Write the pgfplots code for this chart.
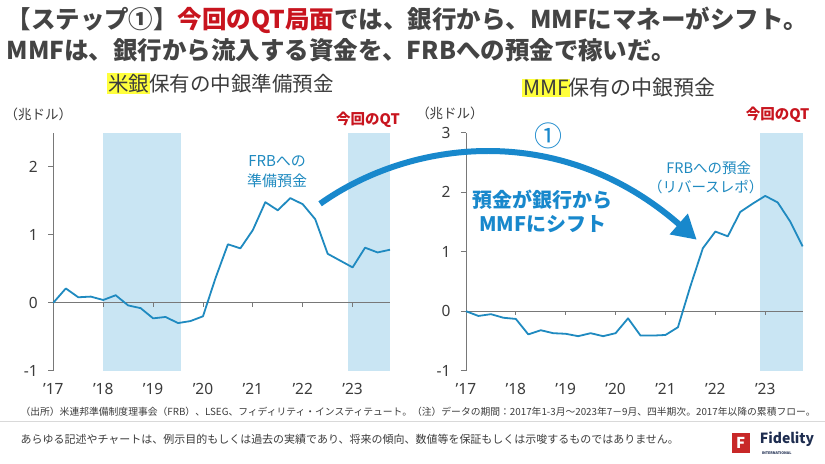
\documentclass[border=0pt]{standalone}
\usepackage{fontspec}
\usepackage{pgfplots}
\pgfplotsset{compat=1.18}
\usetikzlibrary{arrows.meta}
\setmainfont{Noto Sans CJK JP}
\newfontfamily\latinfont{Noto Sans}
\newcommand\fs[1]{\fontsize{#1}{#1}\selectfont}
\definecolor{linecol}{RGB}{31,138,192}
\definecolor{arrowcol}{RGB}{24,136,204}
\definecolor{qtband}{RGB}{201,229,243}
\definecolor{qtred}{RGB}{200,20,30}
\definecolor{titlegray}{RGB}{68,68,68}
\definecolor{txtgray}{RGB}{60,60,60}
\definecolor{axgray}{RGB}{120,120,120}
\definecolor{yel}{RGB}{255,255,60}
\definecolor{fidred}{RGB}{200,40,40}
\definecolor{fidnavy}{RGB}{30,45,80}
% x = years since start of 2017 (quarterly, cumulative flow)
\pgfplotstableread{
x y
0.00 0
0.25 0.21
0.50 0.08
0.75 0.09
1.00 0.04
1.25 0.11
1.50 -0.04
1.75 -0.08
2.00 -0.23
2.25 -0.21
2.50 -0.30
2.75 -0.27
3.00 -0.20
3.25 0.36
3.50 0.86
3.75 0.80
4.00 1.07
4.25 1.48
4.50 1.36
4.75 1.54
5.00 1.45
5.25 1.23
5.50 0.72
5.75 0.62
6.00 0.52
6.25 0.81
6.50 0.74
6.75 0.78
}\banks
\pgfplotstableread{
x y
0.00 0
0.25 -0.08
0.50 -0.05
0.75 -0.11
1.00 -0.13
1.25 -0.39
1.50 -0.32
1.75 -0.37
2.00 -0.38
2.25 -0.42
2.50 -0.37
2.75 -0.42
3.00 -0.37
3.25 -0.12
3.50 -0.41
3.75 -0.41
4.00 -0.40
4.25 -0.27
4.50 0.42
4.75 1.06
5.00 1.34
5.25 1.26
5.50 1.67
5.75 1.81
6.00 1.94
6.25 1.83
6.50 1.51
6.75 1.09
}\mmf
\pgfplotsset{
  mystyle/.style={
    scale only axis, anchor=south west,
    width=337pt, height=238pt,
    xmin=0, xmax=6.75,
    axis lines=left, axis line style={-, draw=axgray, line width=0.8pt},
    x axis line style={draw=none},
    xtick={0,1,2,3,4,5,6},
    xticklabels={’17,’18,’19,’20,’21,’22,’23},
    xtick style={draw=none},
    ytick style={draw=axgray, line width=0.8pt},
    tick align=outside, major tick length=5pt,
    ticklabel style={font=\latinfont\fs{15.5}, text=txtgray},
    xticklabel style={yshift=-4pt},
    yticklabel style={xshift=-7pt},
    clip=false,
  }
}
\begin{document}
\begin{tikzpicture}
\begin{scope}[x=1pt,y=1pt]
\path[use as bounding box, fill=white] (0,0) rectangle (825,464);
\end{scope}
% left axis
\begin{axis}[mystyle, at={(53pt,93pt)}, ymin=-1, ymax=2.5,
  ytick={-1,0,1,2}, yticklabels={-1,0,1,2}]
\fill[qtband] (axis cs:1,-1) rectangle (axis cs:2.55,2.5);
\fill[qtband] (axis cs:5.9,-1) rectangle (axis cs:6.75,2.5);
\draw[axgray, line width=0.8pt] (axis cs:0,0) -- (axis cs:6.75,0);
\draw[axgray, line width=0.8pt] (axis cs:1,0) -- (axis cs:1,-0.06) (axis cs:2,0) -- (axis cs:2,-0.06) (axis cs:3,0) -- (axis cs:3,-0.06) (axis cs:4,0) -- (axis cs:4,-0.06) (axis cs:5,0) -- (axis cs:5,-0.06) (axis cs:6,0) -- (axis cs:6,-0.06);
\addplot[linecol, line width=1.8pt, line join=round] table[x=x,y=y] {\banks};
\end{axis}
% right axis
\begin{axis}[mystyle, at={(466pt,93pt)}, ymin=-1, ymax=3,
  ytick={-1,0,1,2,3}, yticklabels={-1,0,1,2,3}]
\fill[qtband] (axis cs:5.9,-1) rectangle (axis cs:6.75,3);
\draw[axgray, line width=0.8pt] (axis cs:0,0) -- (axis cs:6.75,0);
\draw[axgray, line width=0.8pt] (axis cs:1,0) -- (axis cs:1,-0.07) (axis cs:2,0) -- (axis cs:2,-0.07) (axis cs:3,0) -- (axis cs:3,-0.07) (axis cs:4,0) -- (axis cs:4,-0.07) (axis cs:5,0) -- (axis cs:5,-0.07) (axis cs:6,0) -- (axis cs:6,-0.07);
\addplot[linecol, line width=1.8pt, line join=round] table[x=x,y=y] {\mmf};
\end{axis}
\begin{scope}[x=1pt,y=1pt]
% titles
\node[anchor=west, inner sep=0pt, text=titlegray, font=\bfseries\fs{24.5}] at (6,444) {【ステップ①】\textcolor{qtred}{今回のQT局面}では、銀行から、MMFにマネーがシフト。};
\node[anchor=west, inner sep=0pt, text=titlegray, font=\bfseries\fs{24.5}] at (6,414) {MMFは、銀行から流入する資金を、FRBへの預金で稼いだ。};
\setlength\fboxsep{1pt}
\node[anchor=west, inner sep=0pt, text=txtgray, font=\fs{20.5}] at (107,380) {\colorbox{yel}{米銀}\hspace{-1pt}保有の中銀準備預金};
\node[anchor=west, inner sep=0pt, text=txtgray, font=\fs{21}] at (522,376) {\colorbox{yel}{MMF}\hspace{-1pt}保有の中銀預金};
% unit labels
\node[text=txtgray, font=\fs{13.5}, inner sep=0pt] at (38,350) {（兆ドル）};
\node[text=txtgray, font=\fs{13.5}, inner sep=0pt] at (450,351) {（兆ドル）};
\node[text=qtred, font=\bfseries\fs{14.5}, inner sep=0pt] at (368,344) {今回のQT};
\node[text=qtred, font=\bfseries\fs{14.5}, inner sep=0pt] at (778,349) {今回のQT};
% annotations
\node[text=linecol, font=\fs{15}, inner sep=0pt, align=center] at (277,292) {FRBへの\\[5pt]準備預金};
\node[text=linecol, font=\fs{14.5}, inner sep=0pt] at (709,296) {FRBへの預金};
\node[text=linecol, font=\fs{14.5}, inner sep=0pt] at (706,277) {（リバースレポ）};
% arrow
\draw[arrowcol, line width=6pt, -{Triangle[length=24pt,width=26pt]}] (320,260) .. controls (410,324) and (560,344) .. (697,224);
\node[text=arrowcol, font=\fs{28}, inner sep=0pt] at (549,328) {①};
\node[text=arrowcol, font=\bfseries\fs{20}, inner sep=0pt] at (543,264) {預金が銀行から};
\node[text=arrowcol, font=\bfseries\fs{20}, inner sep=0pt] at (543,240) {MMFにシフト};
% footer
\node[anchor=west, text=txtgray, font=\fs{9.8}, inner sep=0pt] at (20,52) {（出所）米連邦準備制度理事会（FRB）、LSEG、フィディリティ・インスティテュート。（注）データの期間：2017年1-3月～2023年7－9月、四半期次。2017年以降の累積フロー。};
\draw[black!15, line width=0.8pt] (0,42) -- (825,42);
\node[anchor=west, text=txtgray, font=\fs{11}, inner sep=0pt] at (20,24) {あらゆる記述やチャートは、例示目的もしくは過去の実績であり、将来の傾向、数値等を保証もしくは示唆するものではありません。};
% logo
\fill[fidred] (732,11) rectangle (750,31);
\node[text=white, font=\bfseries\fs{15}, inner sep=0pt] at (741,21) {F};
\node[anchor=west, text=fidnavy, font=\bfseries\fs{14}, inner sep=0pt] at (760,24) {Fidelity};
\node[anchor=west, text=fidnavy, font=\bfseries\fs{3.6}, inner sep=0pt] at (762,10.5) {INTERNATIONAL};
\end{scope}
\end{tikzpicture}
\end{document}
